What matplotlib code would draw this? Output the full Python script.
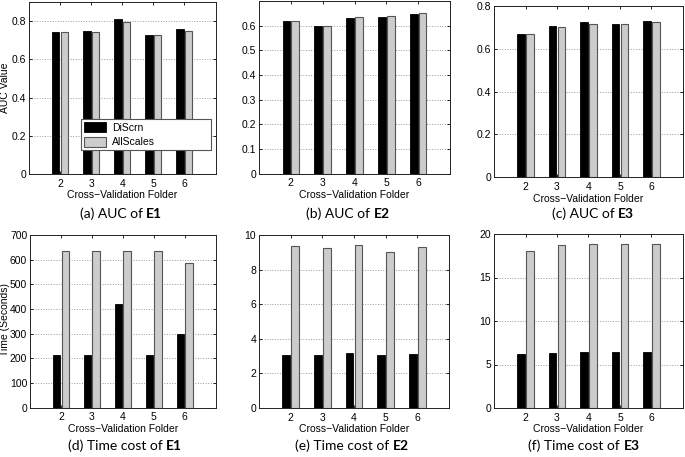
import matplotlib
matplotlib.use('Agg')
import matplotlib.pyplot as plt
import numpy as np
from matplotlib.ticker import FuncFormatter

# Data
folders = [2, 3, 4, 5, 6]

auc_e1_discrn = [0.744, 0.749, 0.809, 0.727, 0.758]
auc_e1_allscales = [0.741, 0.744, 0.793, 0.725, 0.749]
auc_e2_discrn = [0.620, 0.600, 0.630, 0.636, 0.646]
auc_e2_allscales = [0.620, 0.600, 0.634, 0.639, 0.650]
auc_e3_discrn = [0.669, 0.705, 0.724, 0.716, 0.730]
auc_e3_allscales = [0.669, 0.704, 0.716, 0.716, 0.724]

time_e1_discrn = [214, 214, 422, 214, 299]
time_e1_allscales = [637, 636, 636, 636, 587]
time_e2_discrn = [3.07, 3.07, 3.17, 3.07, 3.13]
time_e2_allscales = [9.38, 9.23, 9.40, 9.00, 9.29]
time_e3_discrn = [6.2, 6.3, 6.4, 6.4, 6.4]
time_e3_allscales = [18.0, 18.7, 18.9, 18.8, 18.8]

series_names = ['DiScrn', 'AllScales']
xlabel = 'Cross\u2212Validation Folder'

plt.rcParams['font.family'] = 'Liberation Sans'
plt.rcParams['font.size'] = 7.5

W, H = 685, 457
fig = plt.figure(figsize=(W / 100, H / 100), dpi=100)


def add_ax(l, r, t, b):
    return fig.add_axes([l / W, 1 - b / H, (r - l) / W, (b - t) / H])


panels = [
    ((29, 215.5, 2, 174), auc_e1_discrn, auc_e1_allscales, 0.9, np.arange(0, 0.81, 0.2)),
    ((259, 450, 1, 173.5), auc_e2_discrn, auc_e2_allscales, 0.7, np.arange(0, 0.61, 0.1)),
    ((494, 683, 6, 177.3), auc_e3_discrn, auc_e3_allscales, 0.8, np.arange(0, 0.81, 0.2)),
    ((30, 215.5, 235, 407.5), time_e1_discrn, time_e1_allscales, 700, np.arange(0, 701, 100)),
    ((259, 449, 235, 408), time_e2_discrn, time_e2_allscales, 10, np.arange(0, 11, 2)),
    ((494, 683, 234, 408), time_e3_discrn, time_e3_allscales, 20, np.arange(0, 21, 5)),
]

x = np.array(folders)
axes = []
for box, d, s, ymax, yticks in panels:
    ax = add_ax(*box)
    ax.set_axisbelow(True)
    ax.bar(x - 0.14, d, 0.24, color='black', edgecolor='black', linewidth=0.6)
    ax.bar(x + 0.14, s, 0.24, color='#cccccc', edgecolor='#555555', linewidth=0.8)
    ax.set_xlim(1, 7)
    ax.set_ylim(0, ymax)
    ax.set_xticks(folders)
    ax.set_yticks(yticks)
    ax.yaxis.set_major_formatter(FuncFormatter(lambda v, p: '%g' % round(v, 3)))
    ax.yaxis.grid(True, linestyle=':', color='#999999', linewidth=0.7)
    ax.tick_params(direction='in', length=2.5, width=0.6, top=True, right=True)
    ax.tick_params(axis='x', pad=3.5)
    ax.tick_params(axis='y', pad=2)
    for sp in ax.spines.values():
        sp.set_linewidth(0.7)
        sp.set_color('#222222')
    ax.set_xlabel(xlabel, labelpad=1.0)
    axes.append(ax)

axes[0].legend(series_names, loc='upper left', bbox_to_anchor=(0.277, 0.124, 0.699, 0.194),
               mode='expand', borderaxespad=0, fancybox=False, framealpha=1,
               edgecolor='#555555', handlelength=2.1, handleheight=1.05,
               labelspacing=0.4, borderpad=0.3, handletextpad=0.6)
axes[0].get_legend().get_frame().set_linewidth(0.8)

fig.text(5.5 / W, 1 - 88 / H, 'AUC Value', rotation=90, ha='center', va='center')
fig.text(5 / W, 1 - 320 / H, 'Time (Seconds)', rotation=90, ha='center', va='center')

captions = [
    (121, 214, '(a) AUC of ', 'E1'),
    (348, 214, '(b) AUC of ', 'E2'),
    (593, 214, '(c) AUC of ', 'E3'),
    (125, 446, '(d) Time cost of ', 'E1'),
    (352, 446, '(e) Time cost of ', 'E2'),
    (584, 446, '(f) Time cost of ', 'E3'),
]

renderer = fig.canvas.get_renderer()
for cx, cy, normal, bold in captions:
    t1 = fig.text(0, 1 - cy / H, normal, family='Lato', fontsize=10, va='center', ha='left')
    t2 = fig.text(0, 1 - cy / H, bold, family='Lato', fontsize=10, va='center', ha='left',
                  weight='bold')
    w1 = t1.get_window_extent(renderer).width
    w2 = t2.get_window_extent(renderer).width
    x0 = cx - (w1 + w2) / 2
    t1.set_x(x0 / W)
    t2.set_x((x0 + w1) / W)

fig.savefig('out.png', dpi=100)
